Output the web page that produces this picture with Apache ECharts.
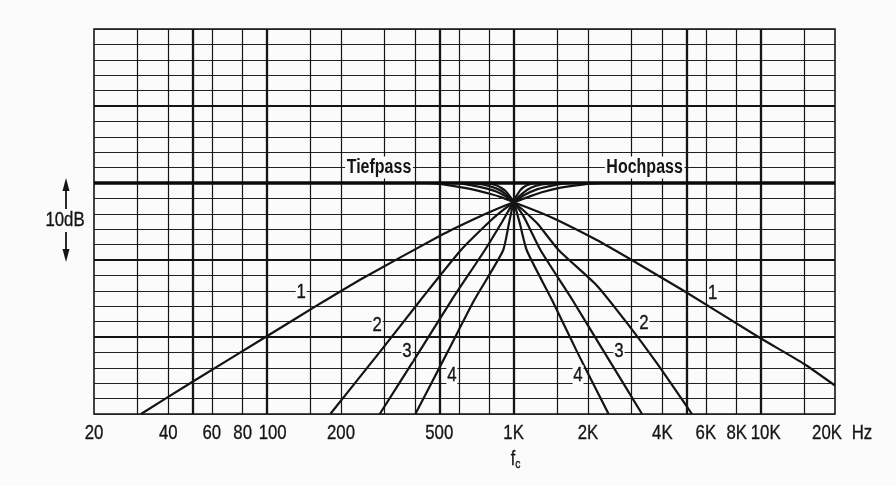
<!DOCTYPE html>
<html>
<head>
<meta charset="utf-8">
<script src="https://cdn.jsdelivr.net/npm/echarts@6/dist/echarts.min.js"></script>
<style>
  html, body { margin: 0; padding: 0; background: #fbfbfb; }
  #chart { width: 896px; height: 485px; }
</style>
</head>
<body>
<div id="chart"></div>
<script>
// Frequenzachse (Hz) und Beschriftung
const tickFreqs = [20, 40, 60, 80, 100, 200, 500, 1000, 2000, 4000, 6000, 8000, 10000, 20000];
const tickLabels = ['20', '40', '60', '80', '100', '200', '500', '1K', '2K', '4K', '6K', '8K', '10K', '20K'];
// senkrechte Rasterlinien
const gridFreqs = [30, 40, 50, 60, 80, 100, 150, 200, 300, 400, 500, 600, 800, 1000, 1500, 2000, 3000, 4000, 5000, 6000, 8000, 10000, 15000];
const majorFreqs = [50, 100, 500, 1000, 5000, 10000];
const majorDb = [10, -10, -20];

// Tiefpass 1..4 Ordnung  [Hz, dB]
const tiefpass1 = [[20, 0], [450, 0], [550, -0.3], [650, -0.7], [800, -1.4], [900, -1.9], [1000, -2.5], [1250, -3.7], [1500, -4.8], [2170, -7.4], [2970, -9.9], [4880, -14.0], [9800, -20.0], [15000, -23.5], [20000, -26.3]];
const tiefpass2 = [[20, 0], [550, 0], [650, -0.2], [750, -0.6], [850, -1.1], [925, -1.7], [1000, -2.5], [1100, -3.6], [1250, -5.3], [1520, -8.7], [2170, -13.3], [2880, -18.2], [3800, -23.4], [5270, -30]];
const tiefpass3 = [[20, 0], [650, 0], [750, -0.2], [850, -0.7], [925, -1.4], [1000, -2.5], [1100, -4.4], [1284, -8.7], [1730, -15.2], [2320, -21.9], [3310, -30]];
const tiefpass4 = [[20, 0], [750, 0], [850, -0.3], [925, -1.0], [1000, -2.5], [1060, -5.3], [1132, -8.8], [1430, -15.2], [1805, -21.9], [2424, -30]];

// Hochpass 1..4 Ordnung  [Hz, dB]
const hochpass1 = [[31, -30], [49, -26.0], [99, -20.0], [160, -15.9], [247, -12.3], [521, -6.6], [700, -4.6], [850, -3.4], [1000, -2.5], [1150, -1.8], [1300, -1.2], [1550, -0.6], [1900, -0.2], [2300, 0], [20000, 0]];
const hochpass2 = [[181, -30], [288, -21.9], [420, -15.2], [612, -8.7], [800, -5.0], [900, -3.6], [1000, -2.5], [1100, -1.6], [1250, -0.8], [1450, -0.3], [1700, 0], [20000, 0]];
const hochpass3 = [[287, -30], [415, -21.9], [561, -15.2], [765, -8.7], [900, -5.0], [1000, -2.5], [1080, -1.4], [1180, -0.6], [1300, -0.2], [1500, 0], [20000, 0]];
const hochpass4 = [[400, -30], [541, -21.9], [693, -15.2], [905, -8.8], [955, -5.4], [1000, -2.5], [1060, -1.0], [1130, -0.3], [1250, 0], [20000, 0]];

// Kurvennummern
const numFreqs = [138, 280, 370, 562, 1822, 2670, 3370, 6400];
const numDb = [-14.2, -18.5, -21.8, -25.0, -25.0, -21.9, -18.2, -14.3];
const numTexts = ['1', '2', '3', '4', '4', '3', '2', '1'];

// Beschriftung Durchlassbereich
const passTexts = ['Tiefpass', 'Hochpass'];
const passFreqs = [285, 3390];
const passDb = [2.0, 2.0];

const FONT = "'Liberation Sans', Arial, sans-serif";
const INK = '#141414';
const BG = '#fbfbfb';
const NARROW = 0.8;
const labelNudge = { '100': 6, '10K': 5, '20K': -8 };

function curve(name, data) {
  return {
    name: name,
    type: 'line',
    data: data,
    symbol: 'none',
    smooth: 0.2,
    z: 4,
    silent: true,
    lineStyle: { color: INK, width: 2.2, join: 'round' }
  };
}

const chart = echarts.init(document.getElementById('chart'));
chart.setOption({
  animation: false,
  backgroundColor: BG,
  grid: {
    left: 94, right: 61, top: 29, bottom: 71,
    show: true,
    backgroundColor: BG,
    borderColor: INK,
    borderWidth: 1.6
  },
  xAxis: {
    type: 'log', logBase: 10, min: 20, max: 20000,
    axisLine: { show: false },
    axisTick: { show: false },
    axisLabel: { show: false },
    splitLine: { show: false }
  },
  yAxis: {
    type: 'value', min: -30, max: 20, interval: 2,
    axisLine: { show: false },
    axisTick: { show: false },
    axisLabel: { show: false },
    splitLine: { show: true, lineStyle: { color: '#222', width: 1.2 } }
  },
  series: [
    {
      // Raster
      type: 'line',
      data: [[20, 0]],
      symbol: 'none',
      lineStyle: { width: 0 },
      z: 2,
      silent: true,
      markLine: {
        silent: true,
        symbol: ['none', 'none'],
        label: { show: false },
        emphasis: { disabled: true },
        animation: false,
        data: gridFreqs.map(f => ({
          xAxis: f,
          lineStyle: { color: INK, type: 'solid', width: majorFreqs.includes(f) ? 2.3 : 1.2 }
        })).concat(majorDb.map(d => ({
          yAxis: d,
          lineStyle: { color: INK, type: 'solid', width: 2.2 }
        }))).concat([{ yAxis: 0, lineStyle: { color: '#0a0a0a', type: 'solid', width: 3.6 } }])
      }
    },
    curve('Tiefpass 1', tiefpass1),
    curve('Tiefpass 2', tiefpass2),
    curve('Tiefpass 3', tiefpass3),
    curve('Tiefpass 4', tiefpass4),
    curve('Hochpass 1', hochpass1),
    curve('Hochpass 2', hochpass2),
    curve('Hochpass 3', hochpass3),
    curve('Hochpass 4', hochpass4)
  ]
});

// schmale Beschriftung: Position aus der Achsenskala, Schrift horizontal gestaucht
function px(f, db) {
  return chart.convertToPixel({ seriesIndex: 1 }, [f, db]);
}
function narrowText(x, y, text, font, extra) {
  return {
    type: 'text', x: x, y: y, scaleX: NARROW, z: 20, silent: true,
    style: Object.assign({
      text: text, font: font, fill: INK, stroke: INK, lineWidth: 0.35,
      align: 'center', verticalAlign: 'middle'
    }, extra || {})
  };
}

const texts = [];
tickFreqs.forEach((f, i) => {
  const p = px(f, -30);
  texts.push(narrowText(p[0] + (labelNudge[tickLabels[i]] || 0), p[1] + 19, tickLabels[i], '21px ' + FONT));
});
const pEnd = px(20000, -30);
texts.push(narrowText(pEnd[0] + 27, pEnd[1] + 19, 'Hz', '21px ' + FONT));
const pFc = px(1000, -30);
texts.push(narrowText(pFc[0] + 2, pFc[1] + 45, '{f|f}{c|c}', '20px ' + FONT, {
  rich: {
    f: { font: '20px ' + FONT, fill: INK },
    c: { font: '13px ' + FONT, fill: INK, padding: [10, 0, 0, 0] }
  }
}));
numFreqs.forEach((f, i) => {
  const p = px(f, numDb[i]);
  texts.push(narrowText(p[0], p[1], numTexts[i], '21px ' + FONT, { backgroundColor: BG, padding: [0, 1] }));
});
passFreqs.forEach((f, i) => {
  const p = px(f, passDb[i]);
  texts.push(narrowText(p[0], p[1], passTexts[i], 'bold 20px ' + FONT, { backgroundColor: BG, padding: [1, 2], lineWidth: 0 }));
});
texts.push(narrowText(65, 220, '10dB', '21px ' + FONT));

chart.setOption({
  graphic: texts.concat([
    { type: 'line', shape: { x1: 66, y1: 188, x2: 66, y2: 209 }, style: { stroke: INK, lineWidth: 1.8 } },
    { type: 'polygon', shape: { points: [[66, 178], [62.5, 191], [69.5, 191]] }, style: { fill: INK } },
    { type: 'line', shape: { x1: 66, y1: 232, x2: 66, y2: 252 }, style: { stroke: INK, lineWidth: 1.8 } },
    { type: 'polygon', shape: { points: [[66, 262], [62.5, 249], [69.5, 249]] }, style: { fill: INK } }
  ])
});
</script>
</body>
</html>
